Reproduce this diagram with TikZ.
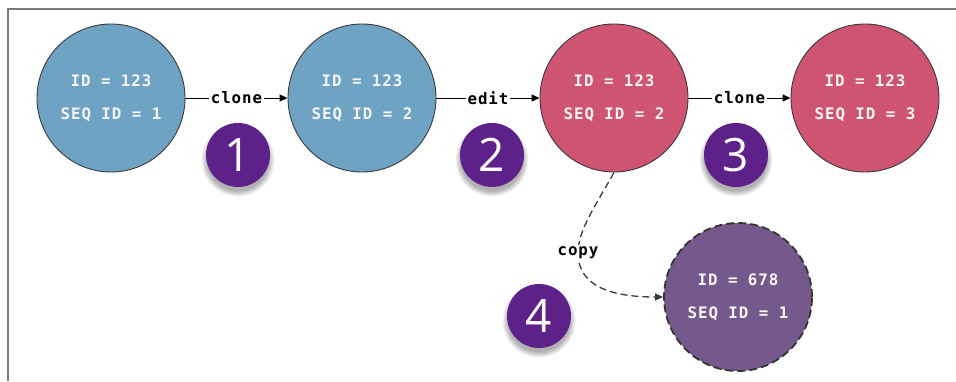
\documentclass[tikz,border=0pt]{standalone}
\usepackage{fontspec}
\setmainfont{Open Sans}
\setmonofont{DejaVu Sans Mono}[LetterSpace=6]
\usetikzlibrary{arrows.meta,calc}
\definecolor{nblue}{HTML}{6FA3C4}
\definecolor{npink}{HTML}{CE5472}
\definecolor{npurple}{HTML}{75598C}
\definecolor{badgec}{HTML}{5E2189}
\definecolor{edgec}{HTML}{3A3A3A}
\definecolor{framec}{HTML}{7A7A7A}
\tikzset{
  state/.style={circle,draw=edgec,line width=0.9pt,minimum size=148pt,inner sep=0pt,
    align=center,text=white!92!gray,font=\ttfamily\bfseries\fontsize{15.8}{33}\selectfont},
  blue state/.style={state,fill=nblue},
  pink state/.style={state,fill=npink},
  copy state/.style={state,fill=npurple,draw=edgec!90!black,line width=1.8pt,dash pattern=on 8pt off 4pt},
  badge/.style={circle,fill=badgec,minimum size=64pt,inner sep=0pt,text=white,
    font=\fontsize{46}{46}\selectfont},
  lbl/.style={fill=white,inner sep=1.5pt,text=black,font=\ttfamily\bfseries\fontsize{15.8}{17}\selectfont},
  conn/.style={draw=black,line width=1pt,-{Triangle[length=8pt,width=7pt]}},
  dconn/.style={draw=edgec,line width=1.3pt,dash pattern=on 7pt off 4pt,-{Triangle[length=8pt,width=7pt]}},
  frame/.style={draw=framec,line width=1.6pt}
}
\begin{document}
\begin{tikzpicture}[x=1pt,y=-1pt]
\useasboundingbox (0,0) rectangle (956,381);
\draw[frame] (8,381) -- (8,9) -- (956,9);

\node[blue state] (c1) at (111,98) {ID = 123\\SEQ ID = 1};
\node[blue state] (c2) at (362,98) {ID = 123\\SEQ ID = 2};
\node[pink state] (c3) at (614,98) {ID = 123\\SEQ ID = 2};
\node[pink state] (c4) at (865,98) {ID = 123\\SEQ ID = 3};
\node[copy state] (c5) at (738,297) {ID = 678\\SEQ ID = 1};

\draw[conn] (c1) -- node[lbl]{clone} (c2);
\draw[conn] (c2) -- node[lbl]{edit} (c3);
\draw[conn] (c3) -- node[lbl]{clone} (c4);
\draw[dconn] (c3.south) .. controls (596,205) and (578,230) .. (578,253)
  node[lbl]{copy} .. controls (578,288) and (615,297) .. (c5.west);

\foreach \p/\t/\n in {{238,155}/1/b1,{492,155}/2/b2,{736,155}/3/b3,{539,316}/4/b4}{
  \foreach \k in {0,...,6}
    \fill[black,opacity=0.05] ($(\p)+(0,5)$) circle ({31pt+\k*0.9pt});
  \node[badge] (\n) at (\p) {\t};
}
\end{tikzpicture}
\end{document}
